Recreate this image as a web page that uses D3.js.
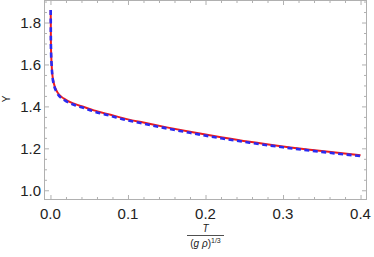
<!DOCTYPE html>
<html>
<head>
<meta charset="utf-8">
<script src="https://cdn.jsdelivr.net/npm/d3@7"></script>
<style>
  body { margin: 0; background: #fff; }
  svg { display: block; }
</style>
</head>
<body>
<div id="container"></div>
<script>
var width = 374;
var height = 257;

// curve values
var tValues = [0.0003, 0.0006, 0.0015, 0.0023, 0.0045, 0.0088, 0.0174, 0.0303, 0.0432, 0.056,
               0.0775, 0.1, 0.12, 0.15, 0.18, 0.22, 0.257, 0.3, 0.35, 0.4];
var redY = [1.86, 1.69, 1.60, 1.556, 1.508, 1.468, 1.437, 1.413, 1.397, 1.381,
            1.360, 1.338, 1.323, 1.300, 1.279, 1.253, 1.231, 1.209, 1.187, 1.167];
var blueY = [1.86, 1.688, 1.597, 1.552, 1.503, 1.463, 1.432, 1.408, 1.392, 1.376,
             1.355, 1.333, 1.318, 1.295, 1.274, 1.248, 1.227, 1.205, 1.183, 1.163];

var xTicks = [0, 0.1, 0.2, 0.3, 0.4];
var xTickLabels = ["0.0", "0.1", "0.2", "0.3", "0.4"];
var yTicks = [1.0, 1.2, 1.4, 1.6, 1.8];
var yTickLabels = ["1.0", "1.2", "1.4", "1.6", "1.8"];

var frameLeft = 44.5, frameRight = 366.5, frameTop = 0.5, frameBottom = 199.5;

var xScale = d3.scaleLinear().domain([-0.0077, 0.4077]).range([frameLeft, frameRight]);
var yScale = d3.scaleLinear().domain([0.956, 1.905]).range([frameBottom, frameTop]);

var svg = d3.select("#container")
    .append("svg")
    .attr("width", width)
    .attr("height", height);

// minor tick positions
var xMinor = d3.range(0, 0.4001, 0.02).filter(function (v) {
    return Math.abs(v * 10 - Math.round(v * 10)) > 1e-6;
});
var yMinor = d3.range(0.95, 1.91, 0.05).filter(function (v) {
    return Math.abs(v * 5 - Math.round(v * 5)) > 1e-6 && v >= yScale.domain()[0] && v <= yScale.domain()[1];
});

function tickAxis(axisFn, scale, values, size, tx, ty) {
    var g = svg.append("g")
        .attr("transform", "translate(" + tx + "," + ty + ")")
        .call(axisFn(scale).tickValues(values).tickSize(size).tickFormat(""));
    g.select(".domain").remove();
    g.selectAll("line").attr("stroke", "#b0b0b0").attr("stroke-width", 1);
}

// inward ticks on all four sides
tickAxis(d3.axisBottom, xScale, xTicks, -4.5, 0, frameBottom);
tickAxis(d3.axisBottom, xScale, xMinor, -2.5, 0, frameBottom);
tickAxis(d3.axisTop, xScale, xTicks, -4.5, 0, frameTop);
tickAxis(d3.axisTop, xScale, xMinor, -2.5, 0, frameTop);
tickAxis(d3.axisLeft, yScale, yTicks, -4.5, frameLeft, 0);
tickAxis(d3.axisLeft, yScale, yMinor, -2.5, frameLeft, 0);
tickAxis(d3.axisRight, yScale, yTicks, -4.5, frameRight, 0);
tickAxis(d3.axisRight, yScale, yMinor, -2.5, frameRight, 0);

// frame
svg.append("rect")
    .attr("x", frameLeft).attr("y", frameTop)
    .attr("width", frameRight - frameLeft).attr("height", frameBottom - frameTop)
    .attr("fill", "none")
    .attr("stroke", "#b0b0b0")
    .attr("stroke-width", 1);

// tick labels
svg.selectAll(".xlab")
    .data(xTicks)
    .enter()
    .append("text")
    .attr("x", function (d) { return xScale(d); })
    .attr("y", 219)
    .attr("text-anchor", "middle")
    .attr("font-family", "Liberation Sans, Arial, sans-serif")
    .attr("font-size", "15px")
    .attr("fill", "#222")
    .text(function (d, i) { return xTickLabels[i]; });

svg.selectAll(".ylab")
    .data(yTicks)
    .enter()
    .append("text")
    .attr("x", 41)
    .attr("y", function (d) { return yScale(d) + 5.3; })
    .attr("text-anchor", "end")
    .attr("font-family", "Liberation Sans, Arial, sans-serif")
    .attr("font-size", "15px")
    .attr("fill", "#222")
    .text(function (d, i) { return yTickLabels[i]; });

// curves
var points = tValues.map(function (t, i) { return [t, redY[i], blueY[i]]; });

var redLine = d3.line()
    .x(function (d) { return xScale(d[0]); })
    .y(function (d) { return yScale(d[1]); })
    .curve(d3.curveMonotoneX);

var blueLine = d3.line()
    .x(function (d) { return xScale(d[0]); })
    .y(function (d) { return yScale(d[2]); })
    .curve(d3.curveMonotoneX);

svg.append("path")
    .attr("d", redLine(points))
    .attr("fill", "none")
    .attr("stroke", "#ee1c1c")
    .attr("stroke-width", 2);

svg.append("path")
    .attr("d", blueLine(points))
    .attr("fill", "none")
    .attr("stroke", "#2a2af0")
    .attr("stroke-width", 2.6)
    .attr("stroke-dasharray", "5,3.5");

// axis labels
svg.append("text")
    .attr("transform", "translate(10,99) rotate(-90)")
    .attr("text-anchor", "middle")
    .attr("font-family", "Liberation Sans, Arial, sans-serif")
    .attr("font-size", "10px")
    .attr("fill", "#222")
    .text("Y");

var cx = xScale(0.2);
svg.append("text")
    .attr("x", cx)
    .attr("y", 232)
    .attr("text-anchor", "middle")
    .attr("font-family", "Liberation Sans, Arial, sans-serif")
    .attr("font-style", "italic")
    .attr("font-size", "10px")
    .attr("fill", "#222")
    .text("T");

svg.append("line")
    .attr("x1", cx - 18.5).attr("x2", cx + 18.5)
    .attr("y1", 235.5).attr("y2", 235.5)
    .attr("stroke", "#222")
    .attr("stroke-width", 0.8);

var den = svg.append("text")
    .attr("x", cx)
    .attr("y", 247)
    .attr("text-anchor", "middle")
    .attr("font-family", "Liberation Sans, Arial, sans-serif")
    .attr("font-size", "10px")
    .attr("fill", "#222");
den.append("tspan").text("(");
den.append("tspan").attr("font-style", "italic").text("g \u03C1");
den.append("tspan").text(")");
den.append("tspan").attr("font-size", "7px").attr("dy", -4).text("1/3");
</script>
</body>
</html>
